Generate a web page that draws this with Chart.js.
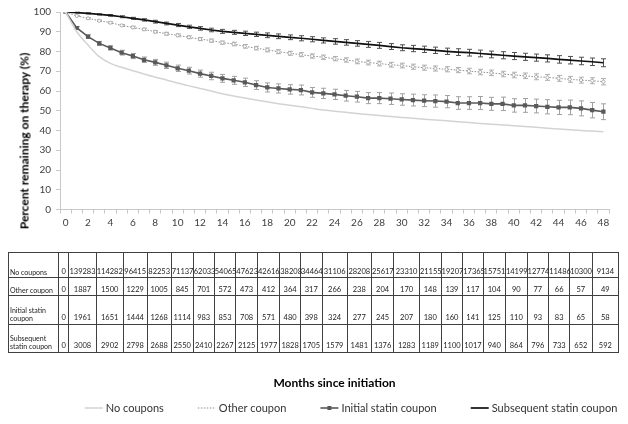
<!DOCTYPE html>
<html><head><meta charset="utf-8">
<script src="https://cdn.jsdelivr.net/npm/chart.js@4.4.1/dist/chart.umd.min.js"></script>
<style>
html,body{margin:0;padding:0;background:#fff;}
#wrap{position:relative;width:628px;height:424px;overflow:hidden;}
#c{position:absolute;left:0;top:0;}
#ytitle{position:absolute;left:24px;top:141px;transform:translate(-50%,-50%) rotate(-90deg);font:bold 12px Lato;white-space:nowrap;color:#000;}
#tbl{position:absolute;left:8px;top:252px;border-collapse:collapse;table-layout:fixed;font-family:Lato;font-size:7.5px;color:#222;}
#tbl td{border:1px solid #404040;padding:0 0 1px 0;vertical-align:bottom;text-align:center;white-space:nowrap;overflow:visible;line-height:8.5px;}
#tbl td.lbl{text-align:left;white-space:normal;padding-left:1px;font-size:7px;}
</style></head>
<body>
<div id="wrap">
<canvas id="c" width="628" height="424"></canvas>
<div id="ytitle">Percent remaining on therapy (%)</div>
<table id="tbl"></table>
</div>
<script>
// ---- data ----
const MONTHS = [0,1,2,3,4,5,6,7,8,9,10,11,12,13,14,15,16,17,18,19,20,21,22,23,24,25,26,27,28,29,30,31,32,33,34,35,36,37,38,39,40,41,42,43,44,45,46,47,48];
const SERIES_NAMES = ['No coupons','Other coupon','Initial statin coupon','Subsequent statin coupon'];

const noCoupons = [100,90.0,83.3,77.4,74.0,72.0,70.3,68.6,67.0,65.6,64.0,62.6,61.3,60.0,58.6,57.5,56.4,55.4,54.5,53.6,52.8,52.0,51.2,50.4,49.8,49.2,48.6,48.1,47.6,47.1,46.6,46.2,45.7,45.3,44.9,44.4,44.0,43.6,43.2,42.8,42.4,42.0,41.6,41.2,40.8,40.4,40.0,39.7,39.4];
const otherCoupon = [100,98.0,96.8,95.6,94.6,93.2,92.2,91.2,90.0,89.0,88.2,87.2,86.3,85.5,84.5,83.8,82.6,81.7,80.8,79.9,79.1,78.4,77.7,77.1,76.4,75.7,75.0,74.4,73.9,73.3,72.9,72.3,71.8,71.4,71.0,70.6,70.1,69.6,69.2,68.6,68.1,67.7,67.2,66.9,66.4,65.9,65.5,65.2,64.7];
const otherCouponErr = [0,0.3,0.4,0.4,0.5,0.5,0.6,0.6,0.6,0.7,0.7,0.7,0.8,0.8,0.8,0.9,0.9,0.9,1.0,1.0,1.0,1.0,1.1,1.1,1.1,1.1,1.2,1.2,1.2,1.2,1.2,1.3,1.3,1.3,1.3,1.3,1.4,1.4,1.4,1.4,1.4,1.4,1.5,1.5,1.5,1.5,1.5,1.5,1.6];
const initialStatin = [100,91.9,87.5,84.1,81.8,79.4,77.7,75.8,74.5,73.0,71.5,70.3,68.8,67.6,66.4,65.4,64.4,63.0,61.8,61.3,60.8,60.5,59.3,58.8,58.3,57.6,57.1,56.4,56.4,56.1,55.7,55.4,55.1,54.9,54.6,53.9,53.9,53.9,53.5,53.5,52.7,52.7,52.4,52.0,51.7,51.7,51.2,50.3,49.5];
const initialStatinErr = [0,0.7,0.9,1.0,1.1,1.2,1.3,1.4,1.5,1.6,1.6,1.7,1.8,1.9,2.0,2.0,2.1,2.2,2.3,2.3,2.4,2.5,2.5,2.6,2.6,2.7,2.7,2.8,2.8,2.9,2.9,3.0,3.0,3.1,3.1,3.2,3.2,3.3,3.3,3.4,3.4,3.5,3.5,3.6,3.6,3.7,3.8,3.9,4.0];
const subsequentStatin = [100,99.7,99.3,98.8,98.3,97.6,96.8,96.0,95.1,94.2,93.4,92.5,91.7,90.9,90.2,89.7,89.2,88.7,88.2,87.7,87.2,86.7,86.2,85.6,85.1,84.6,84.1,83.6,83.1,82.5,81.9,81.5,81.1,80.6,80.1,79.7,79.4,79.0,78.5,78.1,77.7,77.3,76.9,76.5,76.0,75.6,75.2,74.8,74.3];
const subsequentStatinErr = [0,0.2,0.3,0.3,0.4,0.5,0.5,0.6,0.7,0.7,0.8,0.8,0.9,0.9,1.0,1.0,1.1,1.1,1.2,1.2,1.2,1.3,1.3,1.3,1.4,1.4,1.4,1.5,1.5,1.5,1.5,1.6,1.6,1.6,1.6,1.7,1.7,1.7,1.7,1.8,1.8,1.8,1.8,1.8,1.9,1.9,1.9,1.9,2.0];

// number at risk table (months 0,2,...,48)
const TABLE_LABELS = ['No coupons','Other coupon','Initial statin coupon','Subsequent statin coupon'];
const noCouponsN = [0,139283,114282,96415,82253,71137,62033,54065,47623,42616,38208,34464,31106,28208,25617,23310,21155,19207,17365,15751,14199,12774,11486,10300,9134];
const otherCouponN = [0,1887,1500,1229,1005,845,701,572,473,412,364,317,266,238,204,170,148,139,117,104,90,77,66,57,49];
const initialStatinN = [0,1961,1651,1444,1268,1114,983,853,708,571,480,398,324,277,245,207,180,160,141,125,110,93,83,65,58];
const subsequentStatinN = [0,3008,2902,2798,2688,2550,2410,2267,2125,1977,1828,1705,1579,1481,1376,1283,1189,1100,1017,940,864,796,733,652,592];

// ---- layout (not data) ----
const COL_W = [50,10.3,27.4,27,24,24,22,21,21.6,21.7,22.3,20.7,21.7,25,24.3,22.3,25.7,21.7,21.6,20.4,22.3,21.7,21.6,21,22.4,26.6];
const ROW_H = [25,18.3,28.3,28.3];

// ---- table ----
(function(){
  const t = document.getElementById('tbl');
  const cg = document.createElement('colgroup');
  let tw = 0;
  COL_W.forEach(w=>{const c=document.createElement('col'); c.style.width=w+'px'; cg.appendChild(c); tw+=w;});
  t.appendChild(cg);
  t.style.width = tw+'px';
  const rows = [noCouponsN, otherCouponN, initialStatinN, subsequentStatinN];
  const tb = document.createElement('tbody');
  rows.forEach((r,ri)=>{
    const tr = document.createElement('tr');
    tr.style.height = ROW_H[ri]+'px';
    const l = document.createElement('td'); l.className='lbl'; l.textContent = TABLE_LABELS[ri]; tr.appendChild(l);
    r.forEach(v=>{const td=document.createElement('td'); td.textContent=v; tr.appendChild(td);});
    tb.appendChild(tr);
  });
  t.appendChild(tb);
})();

// ---- plugins ----
const errorBarPlugin = {
  id:'errorBars',
  beforeDatasetsDraw(chart){
    const ctx = chart.ctx, y = chart.scales.y;
    chart.data.datasets.forEach((ds,di)=>{
      if(!ds.errorBars) return;
      const meta = chart.getDatasetMeta(di);
      ctx.save();
      ctx.strokeStyle = ds.errorColor; ctx.lineWidth = 1;
      meta.data.forEach((pt,i)=>{
        const e = ds.errorBars[i]; if(!e) return;
        const v = ds.data[i];
        const x = Math.round(pt.x)+0.5;
        const y1 = y.getPixelForValue(v+e), y2 = y.getPixelForValue(v-e);
        ctx.beginPath();
        ctx.moveTo(x,y1); ctx.lineTo(x,y2);
        ctx.moveTo(x-2.5,y1); ctx.lineTo(x+2.5,y1);
        ctx.moveTo(x-2.5,y2); ctx.lineTo(x+2.5,y2);
        ctx.stroke();
      });
      ctx.restore();
    });
  }
};
const legendPlugin = {
  id:'bottomLegend',
  afterDraw(chart){
    const ctx = chart.ctx; ctx.save();
    ctx.font = '11px Lato';
    const lineLen=18, gap=3, itemGap=34, cy=408, cx=351;
    const items = chart.data.datasets.map(ds=>({ds, w:ctx.measureText(ds.label).width}));
    const total = items.reduce((a,it)=>a+lineLen+gap+it.w,0)+itemGap*(items.length-1);
    let x = cx-total/2;
    items.forEach(it=>{
      const ds = it.ds;
      ctx.strokeStyle = ds.borderColor; ctx.lineWidth = ds.borderWidth;
      ctx.setLineDash(ds.borderDash||[]);
      ctx.beginPath(); ctx.moveTo(x,cy); ctx.lineTo(x+lineLen,cy); ctx.stroke();
      ctx.setLineDash([]);
      if(ds.pointStyle==='rect' && ds.pointRadius>0){
        ctx.fillStyle = ds.pointBackgroundColor;
        ctx.fillRect(x+lineLen/2-2, cy-2, 4, 4);
      }
      ctx.fillStyle = '#333333'; ctx.textBaseline='middle'; ctx.textAlign='left';
      ctx.fillText(ds.label, x+lineLen+gap, cy+0.5);
      x += lineLen+gap+it.w+itemGap;
    });
    ctx.restore();
  }
};

// ---- chart ----
const tickFont = {family:'Lato', size:10};
new Chart(document.getElementById('c'), {
  type:'line',
  data:{
    labels: MONTHS,
    datasets:[
      {label:SERIES_NAMES[0], data:noCoupons, borderColor:'#d3d3d3', borderWidth:1.5, pointRadius:0, cubicInterpolationMode:'monotone'},
      {label:SERIES_NAMES[1], data:otherCoupon, borderColor:'#8f8f8f', borderWidth:1, borderDash:[1.5,1.5], pointStyle:'circle', pointRadius:1.6, pointBorderWidth:0.8, pointBorderColor:'#a0a0a0', pointBackgroundColor:'#ffffff', errorBars:otherCouponErr, errorColor:'#b0b0b0'},
      {label:SERIES_NAMES[2], data:initialStatin, borderColor:'#595959', borderWidth:1.6, pointStyle:'rect', pointRadius:3, pointBorderWidth:0, pointBackgroundColor:'#595959', pointBorderColor:'#595959', errorBars:initialStatinErr, errorColor:'#a0a0a0'},
      {label:SERIES_NAMES[3], data:subsequentStatin, borderColor:'#111111', borderWidth:1.7, pointRadius:0, errorBars:subsequentStatinErr, errorColor:'#505050'}
    ]
  },
  options:{
    responsive:false, animation:false, devicePixelRatio:1,
    layout:{padding:{top:12,right:19,left:0,bottom:0}},
    plugins:{legend:{display:false}, tooltip:{enabled:false}},
    scales:{
      x:{type:'category', offset:true,
         grid:{offset:true, drawOnChartArea:false, tickLength:4, color:'#c8c8c8'},
         border:{color:'#c8c8c8'},
         ticks:{autoSkip:false, maxRotation:0, padding:3, color:'#404040', font:tickFont,
                callback:(v,i)=> i%2===0 ? String(MONTHS[i]) : ''},
         title:{display:true, text:'Months since initiation', color:'#000', font:{family:'Lato', size:12, weight:'bold'}, padding:{top:0,bottom:34}},
         afterFit:s=>{s.height=214.5;}},
      y:{min:0, max:100,
         ticks:{stepSize:10, padding:5, color:'#404040', font:tickFont},
         grid:{drawOnChartArea:false, tickLength:4, color:'#c8c8c8'},
         border:{color:'#c8c8c8'},
         afterFit:s=>{s.width=60;}}
    }
  },
  plugins:[errorBarPlugin, legendPlugin]
});
</script>
</body></html>
